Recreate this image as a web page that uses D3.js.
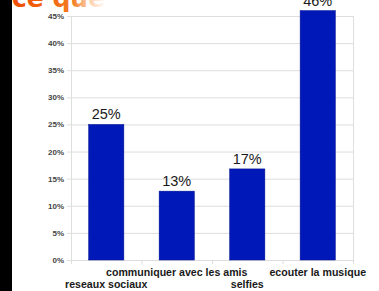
<!DOCTYPE html>
<html><head><meta charset="utf-8">
<script src="https://cdn.jsdelivr.net/npm/d3@7/dist/d3.min.js"></script>
<style>html,body{margin:0;padding:0;background:#fff;overflow:hidden}</style>
</head><body>
<script>
const categories = ["reseaux sociaux","communiquer avec les amis","selfies","ecouter la musique"];
const values = [25, 12.7, 16.8, 46];
const valueLabels = ["25%","13%","17%","46%"];
const yTicks = [0,5,10,15,20,25,30,35,40,45];
const titleText = "ce que";

const W = 379, H = 291;
const svg = d3.select("body").append("svg").attr("width", W).attr("height", H);
svg.append("rect").attr("width", W).attr("height", H).attr("fill", "#fff");
svg.append("rect").attr("x",0).attr("y",0).attr("width",12).attr("height",H).attr("fill","#000");

const mLeft = 71, mRight = 353, mTop = 16, mBottom = 260;
const x = d3.scaleBand().domain(categories).range([mLeft, mRight]).paddingInner(0.5).paddingOuter(0.25);
const xb = d3.scaleBand().domain(categories).range([mLeft, mRight]);
const y = d3.scaleLinear().domain([0,45]).range([mBottom, mTop]);

// gridlines
svg.append("g").selectAll("line").data(yTicks).join("line")
  .attr("x1", mLeft-4).attr("x2", mRight).attr("y1", d=>y(d)+0.5).attr("y2", d=>y(d)+0.5)
  .attr("stroke", "#dedede").attr("stroke-width", 1);
// vertical border lines
svg.append("line").attr("x1", mLeft+0.5).attr("x2", mLeft+0.5).attr("y1", y(45)).attr("y2", mBottom+4).attr("stroke","#dedede");
svg.append("line").attr("x1", mRight+0.5).attr("x2", mRight+0.5).attr("y1", y(45)).attr("y2", mBottom+4).attr("stroke","#dedede");
// x ticks at band edges
svg.append("g").selectAll("line").data(categories.slice(1)).join("line")
  .attr("x1", d=>xb(d)+0.5).attr("x2", d=>xb(d)+0.5).attr("y1", mBottom).attr("y2", mBottom+4)
  .attr("stroke","#dedede");

// y labels
svg.append("g").selectAll("text").data(yTicks).join("text")
  .attr("x", 64).attr("y", d=>y(d)+3)
  .attr("text-anchor","end").attr("font-family","Liberation Sans, Arial, sans-serif")
  .attr("font-size", 8).attr("font-weight","bold").attr("fill","#444")
  .text(d=>d+"%");

// bars
svg.append("g").selectAll("rect").data(values).join("rect")
  .attr("x", (d,i)=>x(categories[i])).attr("width", x.bandwidth())
  .attr("y", d=>y(d)).attr("height", d=>mBottom - y(d))
  .attr("fill", "#0018b8").attr("stroke","#00128c").attr("stroke-width",0.5);

// value labels
svg.append("g").selectAll("text").data(values).join("text")
  .attr("x", (d,i)=>x(categories[i]) + x.bandwidth()/2).attr("y", d=>y(d)-5)
  .attr("text-anchor","middle").attr("font-family","Liberation Sans, Arial, sans-serif")
  .attr("font-size", 14.5).attr("fill","#1a1a1a")
  .text((d,i)=>valueLabels[i]);

// category labels (staggered)
svg.append("g").selectAll("text").data(categories).join("text")
  .attr("x", d=>xb(d) + xb.bandwidth()/2).attr("y", (d,i)=> i%2===0 ? 288 : 276)
  .attr("text-anchor","middle").attr("font-family","Liberation Sans, Arial, sans-serif")
  .attr("font-size", 10.6).attr("font-weight","bold").attr("fill","#1a1a1a")
  .text(d=>d);

// title fragment
const defs = svg.append("defs");
const g = defs.append("linearGradient").attr("id","tg").attr("x1","0").attr("x2","1").attr("y1","0").attr("y2","0");
g.append("stop").attr("offset","0%").attr("stop-color","#f04a00");
g.append("stop").attr("offset","65%").attr("stop-color","#f47a20");
g.append("stop").attr("offset","100%").attr("stop-color","#fbe0c8").attr("stop-opacity",0.25);
svg.append("text").attr("x", 12).attr("y", 7)
  .attr("font-family","DejaVu Sans, sans-serif").attr("font-size", 25).attr("font-weight","bold")
  .attr("fill","url(#tg)").text(titleText);
</script>
</body></html>
